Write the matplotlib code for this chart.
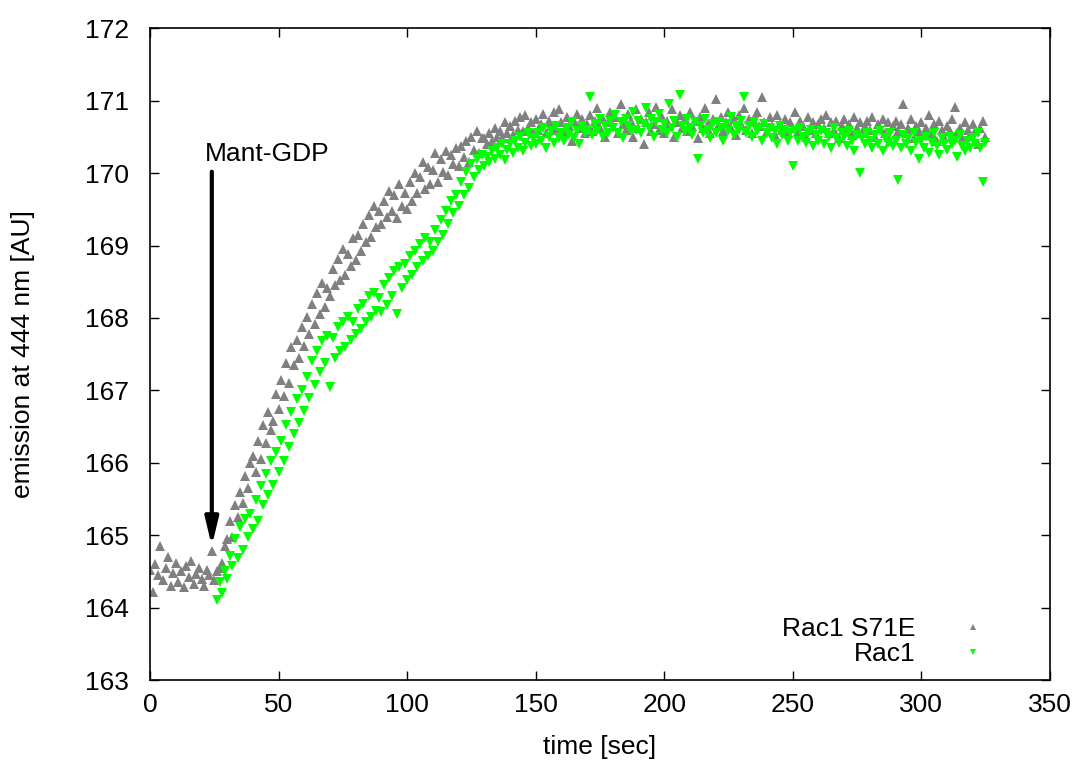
import numpy as np
import matplotlib.pyplot as plt

plt.rcParams['font.family'] = ['Liberation Sans', 'DejaVu Sans']

# emission readings, one per second (Rac1 S71E from t=0 s)
s71e = [
    164.52, 164.22, 164.60, 164.45, 164.85, 164.38, 164.55, 164.70, 164.30, 164.48,
    164.62, 164.35, 164.50, 164.28, 164.58, 164.42, 164.65, 164.33, 164.47, 164.55,
    164.40, 164.30, 164.52, 164.45, 164.78, 164.38, 164.50,
    164.55, 164.62, 164.85,
    164.95, 165.20, 164.98, 165.42, 165.25, 165.60, 165.45, 165.82, 165.65, 166.00,
    166.10, 165.88, 166.30, 166.05, 166.52, 166.28, 166.70, 166.45, 166.58, 166.95,
    166.75, 167.15, 166.92, 167.38, 167.10, 167.60, 167.35, 167.70, 167.45, 167.88,
    167.62, 168.02, 167.78, 168.20, 167.92, 168.35, 168.05, 168.48, 168.15, 168.42,
    168.30, 168.68, 168.45, 168.82, 168.52, 168.95, 168.60, 168.88, 168.72, 169.10,
    168.80, 169.15, 168.92, 169.30, 169.05, 169.42, 169.12, 169.55, 169.25, 169.48,
    169.30, 169.62, 169.40, 169.75, 169.48, 169.70, 169.38, 169.85, 169.55, 169.72,
    169.50, 169.88, 169.62, 170.00, 169.72, 169.95, 170.15, 169.78, 170.08, 169.85,
    170.05, 170.28, 169.88, 170.20, 170.02, 170.30, 169.98, 170.25, 170.12, 170.35,
    170.10, 170.38, 170.22, 170.45, 170.15, 170.50, 170.32, 170.58, 170.28, 170.48,
    170.48, 170.40, 170.55, 170.45, 170.62, 170.50, 170.58, 170.48, 170.70, 170.55,
    170.65, 170.52, 170.72, 170.60, 170.78, 170.58, 170.80, 170.62, 170.70, 170.55,
    170.75, 170.60, 170.68, 170.82, 170.55, 170.72, 170.65, 170.85, 170.60, 170.88,
    170.70, 170.58, 170.78, 170.65, 170.45, 170.72, 170.82, 170.62, 170.75, 170.55,
    170.68, 170.80, 170.58, 170.72, 170.90, 170.62, 170.75, 170.50, 170.70, 170.85,
    170.65, 170.78, 170.55, 170.95, 170.68, 170.60, 170.82, 170.72, 170.50, 170.88,
    170.62, 170.75, 170.40, 170.70, 170.85, 170.58, 170.68, 170.92, 170.60, 170.78,
    170.55, 170.72, 170.65, 170.88, 170.50, 170.70, 170.80, 170.62, 170.75, 170.58,
    170.85, 170.65, 170.72, 170.48, 170.78, 170.62, 170.90, 170.68, 170.55, 170.75,
    171.02, 170.65, 170.78, 170.58, 170.70, 170.85, 170.62, 170.75, 170.52, 170.80,
    170.68, 170.90, 170.60, 170.75, 170.55, 170.72, 170.85, 170.65, 171.05, 170.70,
    170.58, 170.78, 170.65, 170.52, 170.80, 170.68, 170.60, 170.75, 170.55, 170.70,
    170.62, 170.85, 170.58, 170.72, 170.65, 170.50, 170.78, 170.60, 170.70, 170.55,
    170.68, 170.75, 170.62, 170.80, 170.55, 170.70, 170.60, 170.72, 170.48, 170.65,
    170.75, 170.58, 170.68, 170.52, 170.78, 170.62, 170.70, 170.55, 170.65, 170.72,
    170.60, 170.78, 170.50, 170.68, 170.62, 170.75, 170.55, 170.70, 170.45, 170.65,
    170.72, 170.58, 170.68, 170.95, 170.55, 170.62, 170.75, 170.48, 170.65, 170.58,
    170.70, 170.52, 170.62, 170.80, 170.55, 170.68, 170.45, 170.72, 170.60, 170.50,
    170.65, 170.58, 170.75, 170.92, 170.55, 170.62, 170.48, 170.70, 170.60, 170.52,
    170.68, 170.58, 170.40, 170.62, 170.72, 170.50,
]

# wild-type Rac1, recorded from t=26 s onward
rac1_start = 26
rac1 = [
    164.10, 164.35, 164.20, 164.50,
    164.40, 164.72, 164.58, 164.95, 164.68, 165.12, 164.80, 165.22, 164.98, 165.30,
    165.08, 165.48, 165.20, 165.68, 165.42, 165.85, 165.55, 166.02, 165.70, 166.15,
    165.88, 166.30, 166.02, 166.52, 166.22, 166.70, 166.40, 166.88, 166.55, 167.00,
    166.72, 167.18, 166.90, 167.40, 167.08, 167.55, 167.25, 167.68, 167.38, 167.75,
    167.05, 167.72, 167.45, 167.88, 167.55, 167.95, 167.60, 168.02, 167.70, 167.95,
    167.78, 168.12, 167.85, 168.20, 167.95, 168.30, 168.02, 168.35, 168.10, 168.28,
    168.08, 168.45, 168.18, 168.55, 168.30, 168.65, 168.05, 168.70, 168.42, 168.75,
    168.52, 168.85, 168.60, 168.92, 168.70, 169.02, 168.78, 169.10, 168.85, 169.05,
    168.92, 169.22, 169.05, 169.35, 169.15, 169.48, 169.30, 169.62, 169.45, 169.70,
    169.55, 169.88, 169.70, 170.02, 169.80, 170.12, 169.95, 170.20, 170.05, 170.25,
    170.10, 170.22, 170.15, 170.30, 170.20, 170.35, 170.25, 170.40, 170.18, 170.32,
    170.40, 170.28, 170.45, 170.35, 170.50, 170.30, 170.42, 170.55, 170.38, 170.48,
    170.40, 170.55, 170.45, 170.62, 170.35, 170.50, 170.58, 170.42, 170.65, 170.48,
    170.55, 170.45, 170.62, 170.52, 170.70, 170.48, 170.58, 170.40, 170.65, 170.55,
    170.60, 171.05, 170.52, 170.68, 170.58, 170.75, 170.50, 170.65, 170.55, 170.72,
    170.62, 170.80, 170.55, 170.70, 170.48, 170.75, 170.65, 170.58, 170.85, 170.60,
    170.72, 170.55, 170.68, 170.90, 170.62, 170.75, 170.50, 170.70, 170.82, 170.60,
    170.68, 170.55, 170.95, 170.62, 170.72, 170.50, 171.08, 170.65, 170.58, 170.75,
    170.62, 170.52, 170.70, 170.20, 170.65, 170.55, 170.75, 170.60, 170.48, 170.68,
    170.55, 170.70, 170.62, 170.45, 170.68, 170.58, 170.78, 170.52, 170.65, 170.60,
    170.72, 171.05, 170.55, 170.65, 170.50, 170.70, 170.58, 170.62, 170.45, 170.68,
    170.55, 170.62, 170.48, 170.58, 170.40, 170.65, 170.52, 170.60, 170.45, 170.55,
    170.10, 170.58, 170.45, 170.62, 170.50, 170.42, 170.55, 170.60, 170.38, 170.52,
    170.45, 170.58, 170.40, 170.55, 170.50, 170.35, 170.62, 170.48, 170.42, 170.55,
    170.50, 170.38, 170.58, 170.45, 170.30, 170.52, 170.00, 170.48, 170.40, 170.55,
    170.45, 170.35, 170.52, 170.40, 170.58, 170.30, 170.48, 170.42, 170.55, 170.38,
    170.45, 169.90, 170.35, 170.52, 170.40, 170.48, 170.30, 170.55, 170.42, 170.20,
    170.45, 170.35, 170.50, 170.28, 170.42, 170.55, 170.38, 170.25, 170.48, 170.40,
    170.32, 170.50, 170.40, 170.45, 170.22, 170.52, 170.38, 170.30, 170.45, 170.35,
    170.48, 170.40, 170.55, 170.35, 169.88, 170.42,
]

t_s71e = np.arange(len(s71e))
t_rac1 = np.arange(rac1_start, rac1_start + len(rac1))

# time of Mant-GDP addition
t_inject = 24

fig = plt.figure(figsize=(10.8, 7.65), dpi=100)
ax = fig.add_axes([0.139, 0.111, 0.833, 0.852])

ax.plot(t_s71e, s71e, linestyle='none', marker='^', ms=7, color='#808080',
        markeredgewidth=0, label='Rac1 S71E')
ax.plot(t_rac1, rac1, linestyle='none', marker='v', ms=7, color='#00ff00',
        markeredgewidth=0, label='Rac1')

ax.annotate('', xy=(t_inject, 164.85), xytext=(t_inject, 170.02),
            arrowprops=dict(arrowstyle='-|>,head_length=1.0,head_width=0.24',
                            mutation_scale=16.5, lw=3, color='black',
                            shrinkA=0, shrinkB=0))
ax.text(21.3, 170.1, 'Mant-GDP', fontsize=19, ha='left', va='bottom')

ax.set_xlim(0, 350)
ax.set_ylim(163, 172)
ax.set_xticks(np.arange(0, 351, 50))
ax.set_yticks(np.arange(163, 173, 1))
ax.tick_params(direction='in', top=True, right=True, length=6.5, width=1,
               labelsize=19)
ax.tick_params(axis='x', pad=9)
ax.tick_params(axis='y', pad=15)
for sp in ax.spines.values():
    sp.set_linewidth(1.2)

ax.set_xlabel('time [sec]', fontsize=19, labelpad=13)
ax.set_ylabel('emission at 444 nm [AU]', fontsize=19, labelpad=36)

ax.legend(loc='lower right', bbox_to_anchor=(0.965, -0.015), frameon=False,
          markerfirst=False, fontsize=19, markerscale=0.6, handlelength=1.6,
          handletextpad=1.4, labelspacing=0.05)

fig.savefig('out.png', dpi=100)
